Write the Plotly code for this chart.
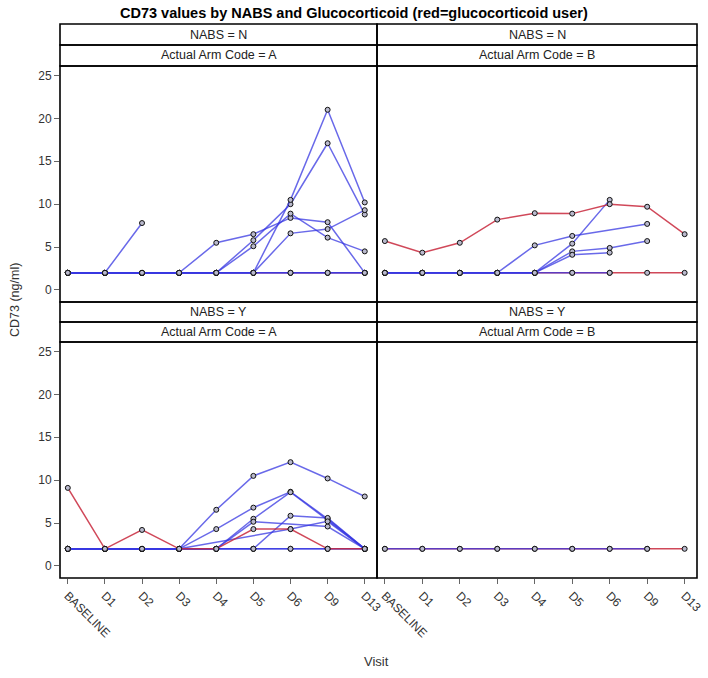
import plotly.graph_objects as go

visits = ["BASELINE", "D1", "D2", "D3", "D4", "D5", "D6", "D9", "D13"]
y_ticks = [0, 5, 10, 15, 20, 25]
N = None

# NABS = N, Arm A
tl_red = [[2, 2, 2, 2, 2, 2, 2, 2, 2]]
tl_blue = [
    [2, 2, 2, 2, 2, 2, 2, 2, 2],
    [2, 2, 2, 2, 2, 2, 2, 2, 2],
    [2, 2, 7.8, N, N, N, N, N, N],
    [2, 2, 2, 2, 5.5, 6.5, 8.4, 7.9, 2],
    [2, 2, 2, 2, 2, 5.8, 10.0, 17.1, 8.8],
    [2, 2, 2, 2, 2, 5.1, 8.9, 6.1, 4.5],
    [2, 2, 2, 2, 2, 2, 10.5, 21.0, 10.2],
    [2, 2, 2, 2, 2, 2, 6.6, 7.1, 9.3],
]
# NABS = N, Arm B
tr_red = [
    [2, 2, 2, 2, 2, 2, 2, 2, 2],
    [5.7, 4.35, 5.5, 8.2, 8.95, 8.9, 10.0, 9.7, 6.5],
]
tr_blue = [
    [2, 2, 2, 2, 2, 2, 2, N, N],
    [2, 2, 2, 2, 5.2, 6.3, N, 7.7, N],
    [2, 2, 2, 2, 2, 5.4, 10.5, N, N],
    [2, 2, 2, 2, 2, 4.5, 4.9, 5.7, N],
    [2, 2, 2, 2, 2, 4.1, 4.35, N, N],
]
# NABS = Y, Arm A
bl_red = [[9.1, 2, 4.2, 2, 2, 4.3, 4.3, 2, 2]]
bl_blue = [
    [2, 2, 2, 2, 2, 2, 2, 2, 2],
    [2, 2, 2, 2, 2, 2, 2, 2, 2],
    [2, 2, 2, 2, 6.55, 10.5, 12.1, 10.2, 8.1],
    [2, 2, 2, 2, 4.3, 6.8, 8.65, 5.5, 2],
    [2, 2, 2, 2, 2, 5.5, 8.6, 5.35, 2],
    [2, 2, 2, 2, 2, 5.15, N, 4.6, 2],
    [2, 2, 2, 2, 2, 2, 5.85, 5.6, 2],
    [2, 2, 2, 2, N, N, 4.3, 5.2, 2],
]
# NABS = Y, Arm B
br_red = [[2, 2, 2, 2, 2, 2, 2, 2, 2]]
br_blue = [[2, 2, 2, 2, 2, 2, 2, 2, N]]

strip_top = ["NABS = N", "NABS = N", "NABS = Y", "NABS = Y"]
strip_arm = ["Actual Arm Code = A", "Actual Arm Code = B",
             "Actual Arm Code = A", "Actual Arm Code = B"]

BLUE = "rgba(55,55,225,0.75)"
RED = "rgba(200,40,60,0.85)"
FONT = "Liberation Sans, Arial, sans-serif"

fig = go.Figure()

panels = [
    ("x", "y", tl_red, tl_blue),
    ("x2", "y2", tr_red, tr_blue),
    ("x3", "y3", bl_red, bl_blue),
    ("x4", "y4", br_red, br_blue),
]


def add_series(series, color, xa, ya):
    for s in series:
        xs = [v for v, val in zip(visits, s) if val is not None]
        ys = [val for val in s if val is not None]
        fig.add_trace(go.Scatter(
            x=xs, y=ys, xaxis=xa, yaxis=ya, mode="lines+markers",
            line=dict(color=color, width=1.5),
            marker=dict(size=5, color="rgba(185,185,205,1)",
                        line=dict(color="#111", width=1)),
            showlegend=False, hoverinfo="skip", cliponaxis=False))


for xa, ya, reds, blues in panels:
    base_red = [s for s in reds if all(v == 2 for v in s if v is not None)]
    other_red = [s for s in reds if s not in base_red]
    add_series(base_red, RED, xa, ya)
    add_series(blues, BLUE, xa, ya)
    add_series(other_red, RED, xa, ya)

# the page body margin is removed (post_script), so the figure fills the window
W, H = 708, 678
ML, MR, MT, MB = 60, 11, 24, 100
PW, PH = W - ML - MR, H - MT - MB


def px(xp):
    return (xp - ML) / PW


def py(yp):
    return 1 - (yp - MT) / PH


xl = [0.0, px(377)]
xr = [px(377), 1.0]
top_strip1 = [py(45), py(24)]
top_strip2 = [py(66), py(45)]
top_plot = [py(302), py(66)]
bot_strip1 = [py(322), py(302)]
bot_strip2 = [py(342), py(322)]
bot_plot = [py(578), py(342)]

xrange_ = [-0.21, 8.33]
yrange_ = [-1.4, 26.1]

tickf = dict(size=12, color="#333", family=FONT)
common_x = dict(type="category", categoryorder="array", categoryarray=visits,
                range=xrange_, showgrid=False, zeroline=False, showline=False,
                fixedrange=True, automargin=False)
fig.update_layout(
    xaxis=dict(domain=xl, anchor="y", showticklabels=False, ticks="", **common_x),
    xaxis2=dict(domain=xr, anchor="y2", showticklabels=False, ticks="", **common_x),
    xaxis3=dict(domain=xl, anchor="y3", ticks="outside", ticklen=5, tickcolor="#666",
                tickangle=45, tickfont=tickf, **common_x),
    xaxis4=dict(domain=xr, anchor="y4", ticks="outside", ticklen=5, tickcolor="#666",
                tickangle=45, tickfont=tickf, **common_x),
)
common_y = dict(range=yrange_, showgrid=False, zeroline=False, showline=False,
                tickvals=y_ticks, fixedrange=True, automargin=False)
fig.update_layout(
    yaxis=dict(domain=top_plot, anchor="x", ticks="outside", ticklen=5, tickcolor="#666",
               tickfont=tickf, **common_y),
    yaxis2=dict(domain=top_plot, anchor="x2", showticklabels=False, ticks="", **common_y),
    yaxis3=dict(domain=bot_plot, anchor="x3", ticks="outside", ticklen=5, tickcolor="#666",
                tickfont=tickf, **common_y),
    yaxis4=dict(domain=bot_plot, anchor="x4", showticklabels=False, ticks="", **common_y),
)

shapes = []
annotations = []
cells = [
    (xl, top_strip1, top_strip2, top_plot, 0),
    (xr, top_strip1, top_strip2, top_plot, 1),
    (xl, bot_strip1, bot_strip2, bot_plot, 2),
    (xr, bot_strip1, bot_strip2, bot_plot, 3),
]
for xd, s1, s2, pd, i in cells:
    for yd in (s1, s2, pd):
        shapes.append(dict(type="rect", xref="paper", yref="paper",
                           x0=xd[0], x1=xd[1], y0=yd[0], y1=yd[1],
                           line=dict(color="black", width=1.6), layer="above"))
    annotations.append(dict(xref="paper", yref="paper", x=(xd[0] + xd[1]) / 2,
                            y=(s1[0] + s1[1]) / 2, text=strip_top[i], showarrow=False,
                            xanchor="center", yanchor="middle",
                            font=dict(size=12.5, color="#222", family=FONT)))
    annotations.append(dict(xref="paper", yref="paper", x=(xd[0] + xd[1]) / 2,
                            y=(s2[0] + s2[1]) / 2, text=strip_arm[i], showarrow=False,
                            xanchor="center", yanchor="middle",
                            font=dict(size=12.5, color="#222", family=FONT)))

annotations.append(dict(xref="paper", yref="paper", x=px(15), y=py(300),
                        text="CD73 (ng/ml)", textangle=-90, showarrow=False,
                        xanchor="center", yanchor="middle",
                        font=dict(size=12.5, color="#333", family=FONT)))
annotations.append(dict(xref="paper", yref="paper", x=px(376), y=py(661),
                        text="Visit", showarrow=False,
                        xanchor="center", yanchor="middle",
                        font=dict(size=13, color="#333", family=FONT)))
annotations.append(dict(xref="paper", yref="paper", x=px(354), y=py(13),
                        text="<b>CD73 values by NABS and Glucocorticoid (red=glucocorticoid user)</b>",
                        showarrow=False, xanchor="center", yanchor="middle",
                        font=dict(size=14.5, color="black", family=FONT)))

fig.update_layout(
    width=W, height=H,
    margin=dict(l=ML, r=MR, t=MT, b=MB, autoexpand=False),
    paper_bgcolor="white", plot_bgcolor="white",
    shapes=shapes, annotations=annotations,
)

fig.write_html("out.html", config={"displayModeBar": False},
               post_script="document.body.style.margin='0';")
